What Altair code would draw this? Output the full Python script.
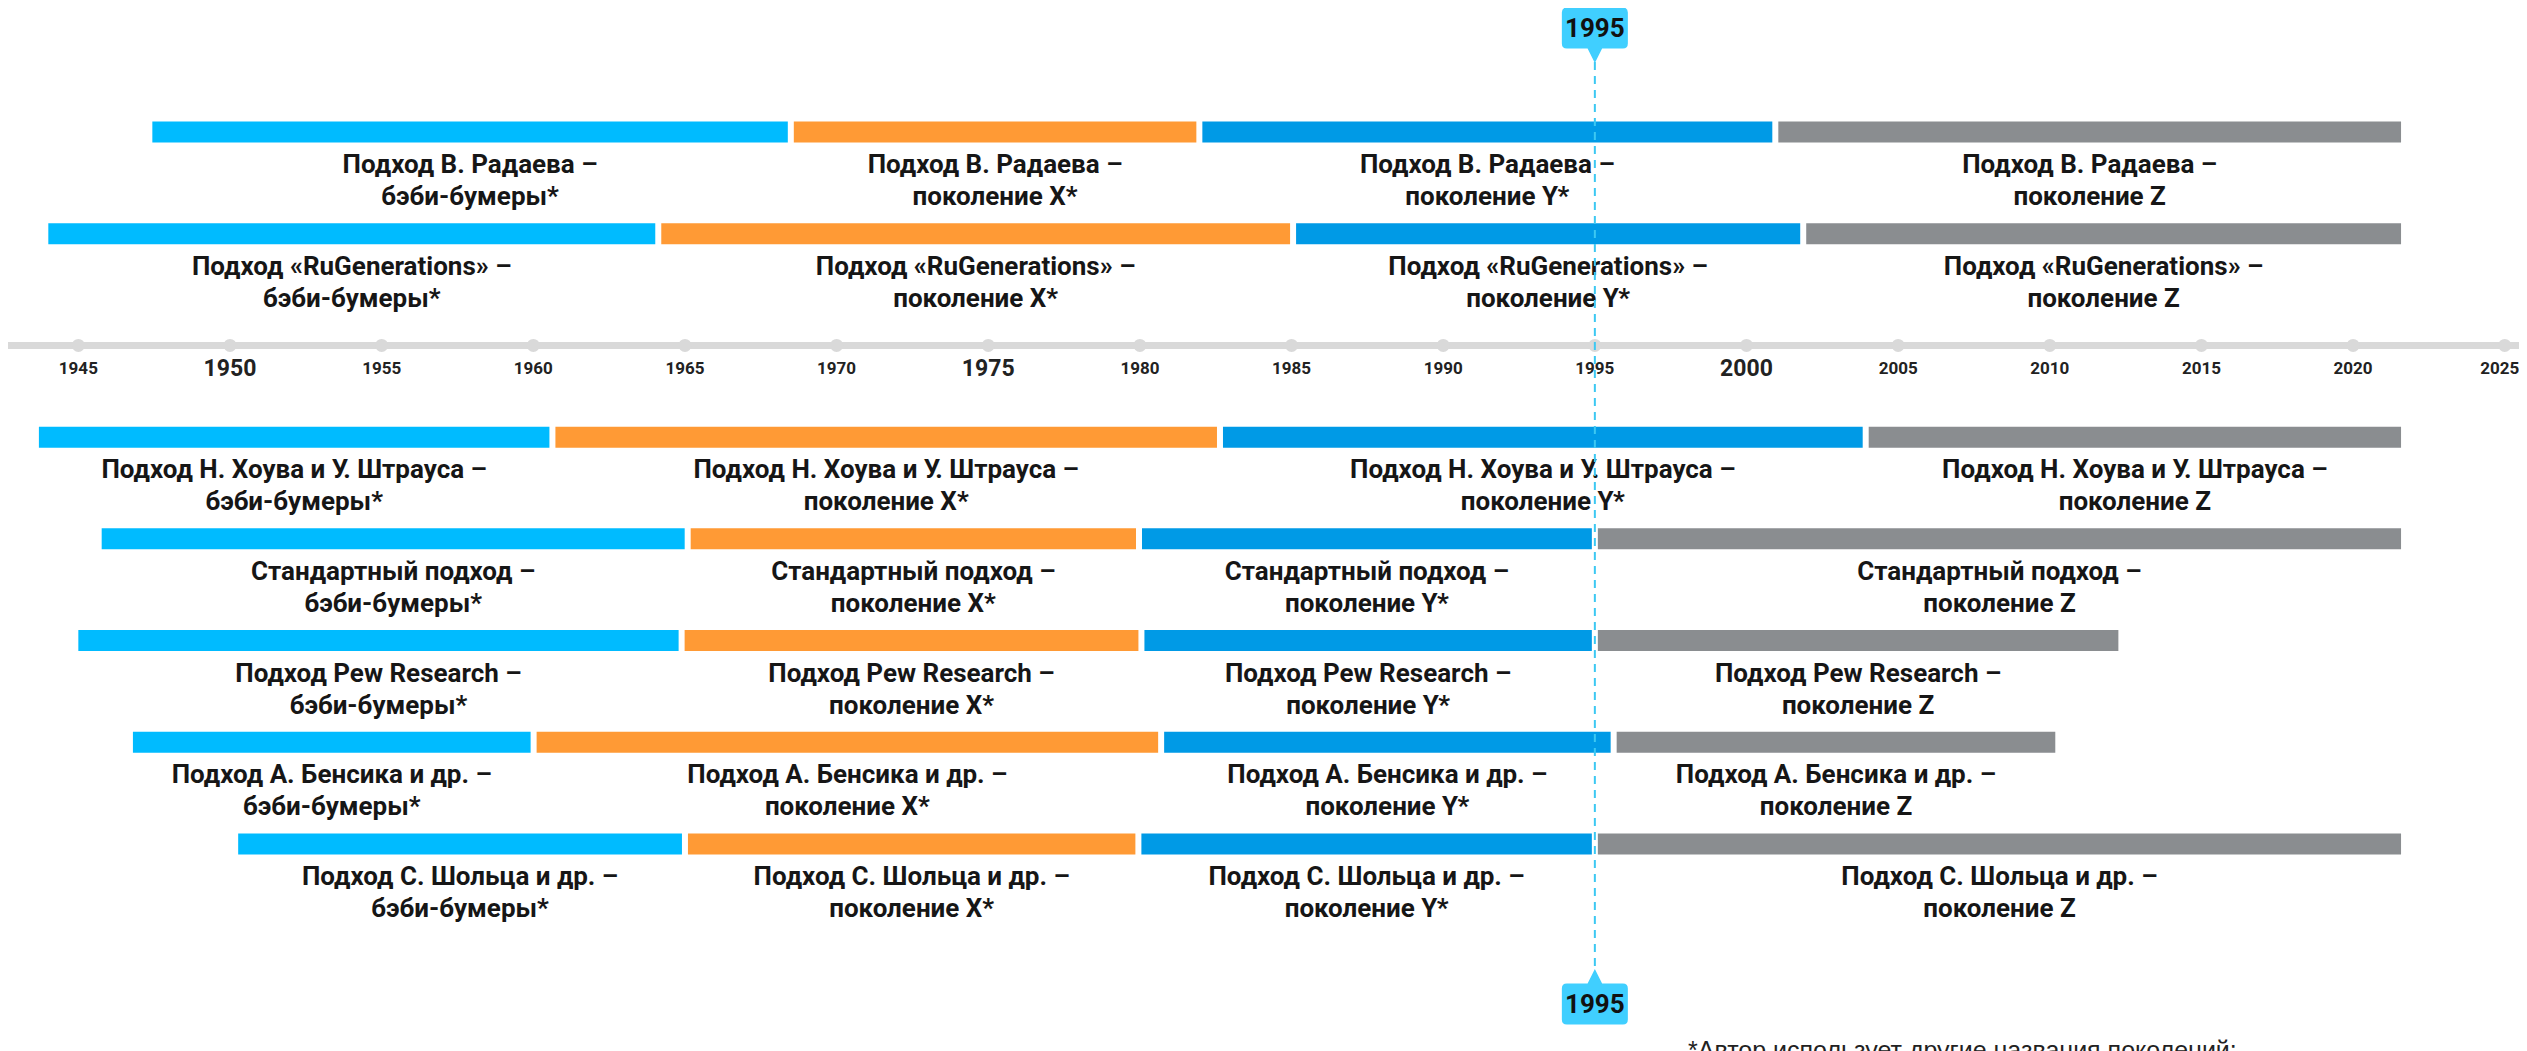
import altair as alt
import pandas as pd

# ---------------- data ----------------
approaches = [
    "Подход В. Радаева",
    "Подход «RuGenerations»",
    "Подход Н. Хоува и У. Штрауса",
    "Стандартный подход",
    "Подход Pew Research",
    "Подход А. Бенсика и др.",
    "Подход С. Шольца и др.",
]
generations = ["бэби-бумеры*", "поколение X*", "поколение Y*", "поколение Z"]
gen_keys = ["boomers", "genx", "geny", "genz"]
gen_colors = ["#00BBFF", "#FF9A35", "#009AE6", "#8A8D90"]

# boundary years per approach: start, boomers->X, X->Y, Y->Z, end
bounds_radaev = [1947.34, 1968.49, 1981.96, 2000.95, 2021.68]
bounds_rugen = [1943.91, 1964.12, 1985.05, 2001.87, 2021.68]
bounds_howe = [1943.60, 1960.63, 1982.64, 2003.93, 2021.68]
bounds_standard = [1945.67, 1965.09, 1979.97, 1995.00, 2021.68]
bounds_pew = [1944.90, 1964.89, 1980.05, 1995.00, 2012.36]
bounds_bencik = [1946.70, 1960.01, 1980.70, 1995.62, 2010.28]
bounds_scholz = [1950.17, 1965.00, 1979.95, 1995.00, 2021.68]
all_bounds = [bounds_radaev, bounds_rugen, bounds_howe, bounds_standard,
              bounds_pew, bounds_bencik, bounds_scholz]

axis_slot = "ось"
tick_years = list(range(1945, 2026, 5))
major_years = [1950, 1975, 2000]
highlight_year = 1995
x_domain = [1942.68, 2025.47]
footnote = "*Автор использует другие названия поколений:"

# ---------------- tables ----------------
records = []
for name, b in zip(approaches, all_bounds):
    for j in range(4):
        records.append({
            "row": name, "gen": gen_keys[j],
            "start": b[j], "end": b[j + 1],
            "line1": name + " –", "line2": generations[j],
        })
seg_df = pd.DataFrame(records)
tick_df = pd.DataFrame({"year": tick_years,
                        "major": [y in major_years for y in tick_years]})
hl_df = pd.DataFrame({"year": [highlight_year], "label": [str(highlight_year)]})
note_df = pd.DataFrame({"text": [footnote]})
axis_df = pd.DataFrame({"a": [x_domain[0]], "b": [x_domain[1]], "slot": [axis_slot]})

slot_domain = approaches[:2] + [axis_slot] + approaches[2:]

W, H = 2511, 1043
FONT = "Roboto"

xscale = alt.Scale(domain=x_domain, nice=False, zero=False)
yscale = alt.Scale(type="point", domain=slot_domain, range=[124, 836], padding=0)

base = alt.Chart(seg_df)

bars = base.mark_bar(size=21, xOffset=3, x2Offset=-3).encode(
    x=alt.X("start:Q", scale=xscale,
            axis=alt.Axis(values=tick_years, grid=True, gridColor="#EBEBEB",
                          gridWidth=2, labels=False, ticks=False, domain=False,
                          title=None)),
    x2="end:Q",
    y=alt.Y("row:N", scale=yscale, axis=None),
    color=alt.Color("gen:N", scale=alt.Scale(domain=gen_keys, range=gen_colors),
                    legend=None),
)

label_common = dict(font=FONT, fontWeight="bold", fontSize=26, color="#161616",
                    align="center", baseline="middle")
lab1 = base.transform_calculate(mid="(datum.start + datum.end) / 2").mark_text(
    dy=33, **label_common).encode(
    x=alt.X("mid:Q", scale=xscale, axis=None),
    y=alt.Y("row:N", scale=yscale, axis=None),
    text="line1:N",
)
lab2 = base.transform_calculate(mid="(datum.start + datum.end) / 2").mark_text(
    dy=65, **label_common).encode(
    x=alt.X("mid:Q", scale=xscale, axis=None),
    y=alt.Y("row:N", scale=yscale, axis=None),
    text="line2:N",
)

axis_line = alt.Chart(axis_df).mark_rule(color="#D9D9D9", strokeWidth=7, yOffset=10).encode(
    x=alt.X("a:Q", scale=xscale, axis=None),
    x2="b:Q",
    y=alt.Y("slot:N", scale=yscale, axis=None),
)

tick_base = alt.Chart(tick_df).transform_calculate(slot=f"'{axis_slot}'")
dots = tick_base.mark_circle(size=170, color="#D9D9D9", opacity=1, yOffset=10).encode(
    x=alt.X("year:Q", scale=xscale, axis=None),
    y=alt.Y("slot:N", scale=yscale, axis=None),
)
tick_enc = dict(
    x=alt.X("year:Q", scale=xscale, axis=None),
    y=alt.Y("slot:N", scale=yscale, axis=None),
    text=alt.Text("year:Q", format="d"),
    size=alt.condition("datum.major", alt.value(23), alt.value(17)),
)
tick_labels = tick_base.transform_filter(f"datum.year < {tick_years[-1]}").mark_text(
    font=FONT, fontWeight="bold", color="#222222",
    baseline="middle", align="center", dy=34).encode(**tick_enc)
tick_label_last = tick_base.transform_filter(f"datum.year == {tick_years[-1]}").mark_text(
    font=FONT, fontWeight="bold", color="#222222",
    baseline="middle", align="center", dy=34, dx=-5).encode(**tick_enc)

hl = alt.Chart(hl_df)
dashed = hl.mark_rule(color="#3CC8F2", strokeDash=[8, 6], strokeWidth=2).encode(
    x=alt.X("year:Q", scale=xscale, axis=None),
    y=alt.value(54), y2=alt.value(962),
)

path_down = ("M -0.85 -0.62 L 0.85 -0.62 Q 1 -0.62 1 -0.47 L 1 0.47 Q 1 0.62 0.85 0.62 "
             "L 0.22 0.62 L 0 1.06 L -0.22 0.62 L -0.85 0.62 Q -1 0.62 -1 0.47 "
             "L -1 -0.47 Q -1 -0.62 -0.85 -0.62 Z")
path_up = ("M -0.85 0.62 L 0.85 0.62 Q 1 0.62 1 0.47 L 1 -0.47 Q 1 -0.62 0.85 -0.62 "
           "L 0.22 -0.62 L 0 -1.06 L -0.22 -0.62 L -0.85 -0.62 Q -1 -0.62 -1 -0.47 "
           "L -1 0.47 Q -1 0.62 -0.85 0.62 Z")

mk_top = hl.mark_point(shape=path_down, size=4356, filled=True, fill="#40CFFF",
                       strokeWidth=0, opacity=1).encode(
    x=alt.X("year:Q", scale=xscale, axis=None), y=alt.value(20))
mk_top_t = hl.mark_text(font=FONT, fontWeight="bold", fontSize=26, color="#111111",
                        baseline="middle").encode(
    x=alt.X("year:Q", scale=xscale, axis=None), y=alt.value(21), text="label:N")
mk_bot = hl.mark_point(shape=path_up, size=4356, filled=True, fill="#40CFFF",
                       strokeWidth=0, opacity=1).encode(
    x=alt.X("year:Q", scale=xscale, axis=None), y=alt.value(996))
mk_bot_t = hl.mark_text(font=FONT, fontWeight="bold", fontSize=26, color="#111111",
                        baseline="middle").encode(
    x=alt.X("year:Q", scale=xscale, axis=None), y=alt.value(997), text="label:N")

note = alt.Chart(note_df).mark_text(font="Liberation Sans", fontSize=25, color="#222222",
                                    align="left", baseline="top").encode(
    x=alt.value(1680), y=alt.value(1031), text="text:N")

chart = alt.layer(
    bars, lab1, lab2, axis_line, dots, tick_labels, tick_label_last, dashed,
    mk_top, mk_top_t, mk_bot, mk_bot_t, note,
).properties(
    width=W, height=H,
    autosize=alt.AutoSizeParams(type="none"),
    padding=0,
    background="white",
).configure_view(stroke=None)

chart.save("out.html", embed_options={"renderer": "svg", "actions": False})
